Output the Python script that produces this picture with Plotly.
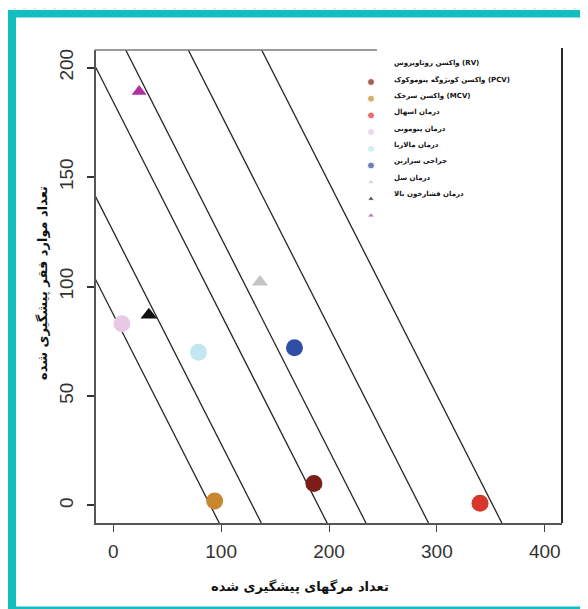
import plotly.graph_objects as go

# ---------------- data ----------------
labels = [
    "واکسن کونژوگه پنوموکوک (PCV)",
    "واکسن سرخک (MCV)",
    "درمان اسهال",
    "درمان پنومونی",
    "درمان مالاریا",
    "جراحی سزارین",
    "درمان سل",
    "درمان فشارخون بالا",
    "",
]
deaths_averted = [186, 94, 340, 8, 79, 168, 136, 33, 24]
poverty_averted = [10, 2, 1, 83, 70, 72, 102, 87, 189]
colors = ["#7B1E17", "#C8872F", "#D9362B", "#E8C9E4", "#C2E7F0",
          "#2F4FA6", "#C4C4C4", "#111111", "#B0309F"]
symbols = ["circle"] * 6 + ["triangle-up"] * 3
sizes = [17, 17, 17, 17, 17, 17, 14, 14.5, 13]

legend_texts = [
    "واکسن روتاویروس (RV)",
    "واکسن کونژوگه پنوموکوک (PCV)",
    "واکسن سرخک (MCV)",
    "درمان اسهال",
    "درمان پنومونی",
    "درمان مالاریا",
    "جراحی سزارین",
    "درمان سل",
    "درمان فشارخون بالا",
]

# iso lines: x-intercepts at y = 0, common slope
iso_x_intercepts = [90, 129, 190, 226, 284, 352]
iso_slope = -0.97

x_ticks = [0, 100, 200, 300, 400]
y_ticks = [0, 50, 100, 150, 200]

x_title = "تعداد مرگهای پیشگیری شده"
y_title = "تعداد موارد فقر پیشگیری شده"

# ---------------- figure ----------------
OFF = 8  # page body margin
W, H = 588 - OFF, 609 - OFF
PL, PR, PT, PB = 96, 562, 50, 523  # plot box in page pixels
L, T = PL - OFF, PT - OFF
R, B = W - (PR - OFF), H - (PB - OFF)
PW, PH = PR - PL, PB - PT

def px_x(px):
    return (px - PL) / PW

def px_y(py):
    return (PB - py) / PH

fig = go.Figure()

y_hi, y_lo = 230, -30
for c in iso_x_intercepts:
    xs = [c + y_hi / iso_slope, c + y_lo / iso_slope]
    fig.add_trace(go.Scatter(x=xs, y=[y_hi, y_lo], mode="lines",
                             line=dict(color="#262626", width=1.3),
                             hoverinfo="skip", showlegend=False))

for i in range(len(deaths_averted)):
    fig.add_trace(go.Scatter(
        x=[deaths_averted[i]], y=[poverty_averted[i]], mode="markers",
        marker=dict(color=colors[i], size=sizes[i], symbol=symbols[i],
                    line=dict(width=0)),
        name=labels[i], showlegend=False, cliponaxis=False))

# custom legend (markers shifted one row down, as in the reference)
text_top, text_step = 63, 16.4
mark_top, mark_step = 82, 16.7
leg_mx = px_x(371)
leg_tx = px_x(392)
fig.add_trace(go.Scatter(
    x=[leg_mx] * len(colors),
    y=[px_y(mark_top + i * mark_step) for i in range(len(colors))],
    xaxis="x2", yaxis="y2", mode="markers",
    marker=dict(color=colors, symbol=symbols,
                size=[7 if s == "circle" else 6 for s in symbols]),
    showlegend=False, hoverinfo="skip", cliponaxis=False))

annotations = []
for i, t in enumerate(legend_texts):
    annotations.append(dict(
        x=leg_tx, y=px_y(text_top + i * text_step), xref="paper", yref="paper",
        text="<b>" + t + "</b>", showarrow=False, xanchor="left", yanchor="middle",
        font=dict(family="DejaVu Sans", size=7, color="#111"),
    ))

annotations.append(dict(
    x=px_x(300), y=px_y(586), xref="paper", yref="paper", text="<b>" + x_title + "</b>",
    showarrow=False, xanchor="center", yanchor="middle",
    font=dict(family="DejaVu Sans", size=13, color="#111")))
annotations.append(dict(
    x=px_x(42), y=px_y(283), xref="paper", yref="paper", text="<b>" + y_title + "</b>",
    showarrow=False, xanchor="center", yanchor="middle", textangle=-90,
    font=dict(family="DejaVu Sans", size=13, color="#111")))

shapes = []
teal = "#14BDBF"
light = "#CDEFF2"
# top stripes (only the part below the page margin is visible)
for k in range(0, 60):
    x0 = 3 + k * 10
    shapes.append(dict(type="rect", xref="paper", yref="paper",
                       x0=px_x(x0), x1=px_x(x0 + 3), y0=px_y(OFF), y1=px_y(9.5),
                       fillcolor=light, line=dict(width=0), layer="below"))
# teal bands
shapes.append(dict(type="rect", xref="paper", yref="paper",
                   x0=px_x(8), x1=px_x(600), y0=px_y(10), y1=px_y(17.5),
                   fillcolor=teal, line=dict(width=0), layer="below"))
shapes.append(dict(type="rect", xref="paper", yref="paper",
                   x0=px_x(8), x1=px_x(16), y0=px_y(10), y1=px_y(620),
                   fillcolor=teal, line=dict(width=0), layer="below"))
shapes.append(dict(type="rect", xref="paper", yref="paper",
                   x0=px_x(8), x1=px_x(600), y0=px_y(606.5), y1=px_y(620),
                   fillcolor=teal, line=dict(width=0), layer="below"))
# partial top frame and right frame
shapes.append(dict(type="line", xref="paper", yref="paper",
                   x0=px_x(95), x1=px_x(377), y0=1, y1=1,
                   line=dict(color="#7a7a7a", width=1.5)))
shapes.append(dict(type="line", xref="paper", yref="paper",
                   x0=px_x(562), x1=px_x(562), y0=0, y1=px_y(48),
                   line=dict(color="#111", width=1.8)))

tick_font = dict(family="Liberation Sans Narrow, Liberation Sans, sans-serif",
                 size=19, color="#333")

fig.update_layout(
    width=W, height=H, margin=dict(l=L, r=R, t=T, b=B),
    paper_bgcolor="white", plot_bgcolor="white",
    showlegend=False,
    xaxis=dict(range=[-16, 416], tickvals=x_ticks, showgrid=False, zeroline=False,
               showline=True, linecolor="#555", linewidth=1.5, mirror=False,
               ticks="outside", ticklen=7, tickwidth=1.2, tickcolor="#444",
               tickfont=tick_font, ticklabelstandoff=3),
    yaxis=dict(range=[-8, 208], tickvals=y_ticks, showgrid=False, zeroline=False,
               showline=True, linecolor="#555", linewidth=1.5, mirror=False,
               ticks="outside", ticklen=7, tickwidth=1.8, tickcolor="#333",
               tickangle=-90, tickfont=tick_font, ticklabelstandoff=7),
    xaxis2=dict(range=[0, 1], overlaying="x", visible=False),
    yaxis2=dict(range=[0, 1], overlaying="y", visible=False),
    annotations=annotations,
    shapes=shapes,
)

fig.write_html("out.html")
